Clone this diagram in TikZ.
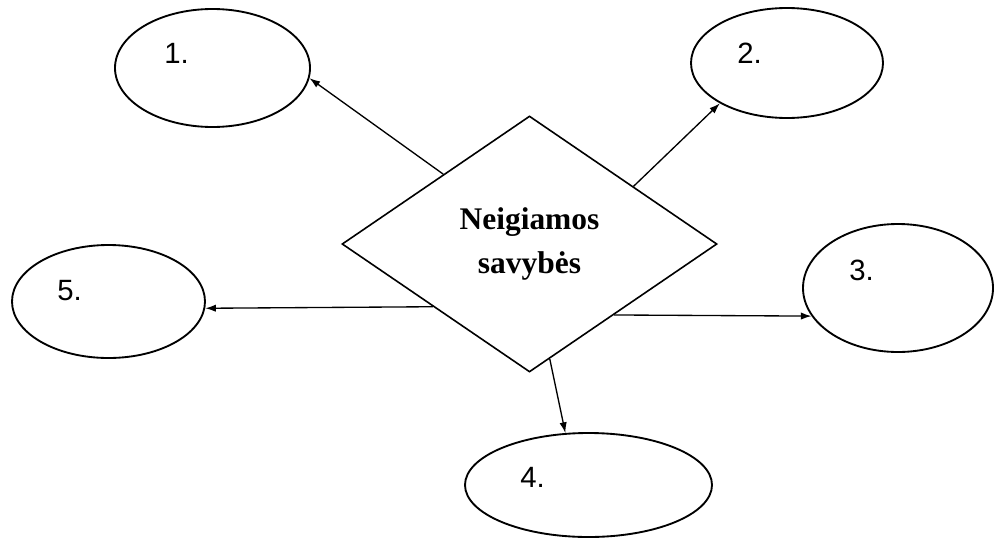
\documentclass[tikz,border=0pt]{standalone}
\usepackage{fontspec}
\setmainfont{Liberation Serif}
\newfontfamily\numfont{Liberation Sans}
\usetikzlibrary{shapes.geometric,arrows.meta}

\tikzset{
  bubble/.style={ellipse, draw=black, line width=1.4pt, inner sep=0pt},
  centre/.style={diamond, draw=black, line width=1.2pt, inner sep=0pt,
    align=center, font=\bfseries\fontsize{23.6}{32.3}\selectfont},
  num/.style={anchor=base west, inner sep=0pt, font=\numfont\fontsize{22}{26}\selectfont},
  link/.style={draw=black, line width=1pt, -{Latex[length=8pt,width=5.5pt]}}
}

\begin{document}
\begin{tikzpicture}[x=0.75pt, y=-0.75pt]
  \useasboundingbox (0,0) rectangle (994,539);

  % central diamond
  \node[centre, minimum width=281.25pt, minimum height=192pt] (d) at (529.5,244)
    {Neigiamos\\savybės};

  % surrounding ellipses
  \node[bubble, minimum width=146.25pt, minimum height=88.5pt] (e1) at (212.5,68) {};
  \node[bubble, minimum width=144pt, minimum height=82.5pt] (e2) at (787,63) {};
  \node[bubble, minimum width=142.5pt, minimum height=96pt] (e3) at (898,288) {};
  \node[bubble, minimum width=185.25pt, minimum height=78pt] (e4) at (588.5,485) {};
  \node[bubble, minimum width=144.75pt, minimum height=84.75pt] (e5) at (108.5,301.5) {};

  % numbers
  \node[num] (t1) at (164,63) {1.};
  \node[num] (t2) at (737,63) {2.};
  \node[num] (t3) at (849,280) {3.};
  \node[num] (t4) at (520,487) {4.};
  \node[num] (t5) at (57,300) {5.};

  % connectors
  \draw[link] (d.141) -- (e1.-6);
  \draw[link] (d.29.5) -- (e2.211);
  \draw[link] (d.-40.4) -- (e3.198);
  \draw[link] (d.-80.9) -- (e4.114);
  \draw[link] (d.213.1) -- (e5.-4);
\end{tikzpicture}
\end{document}
